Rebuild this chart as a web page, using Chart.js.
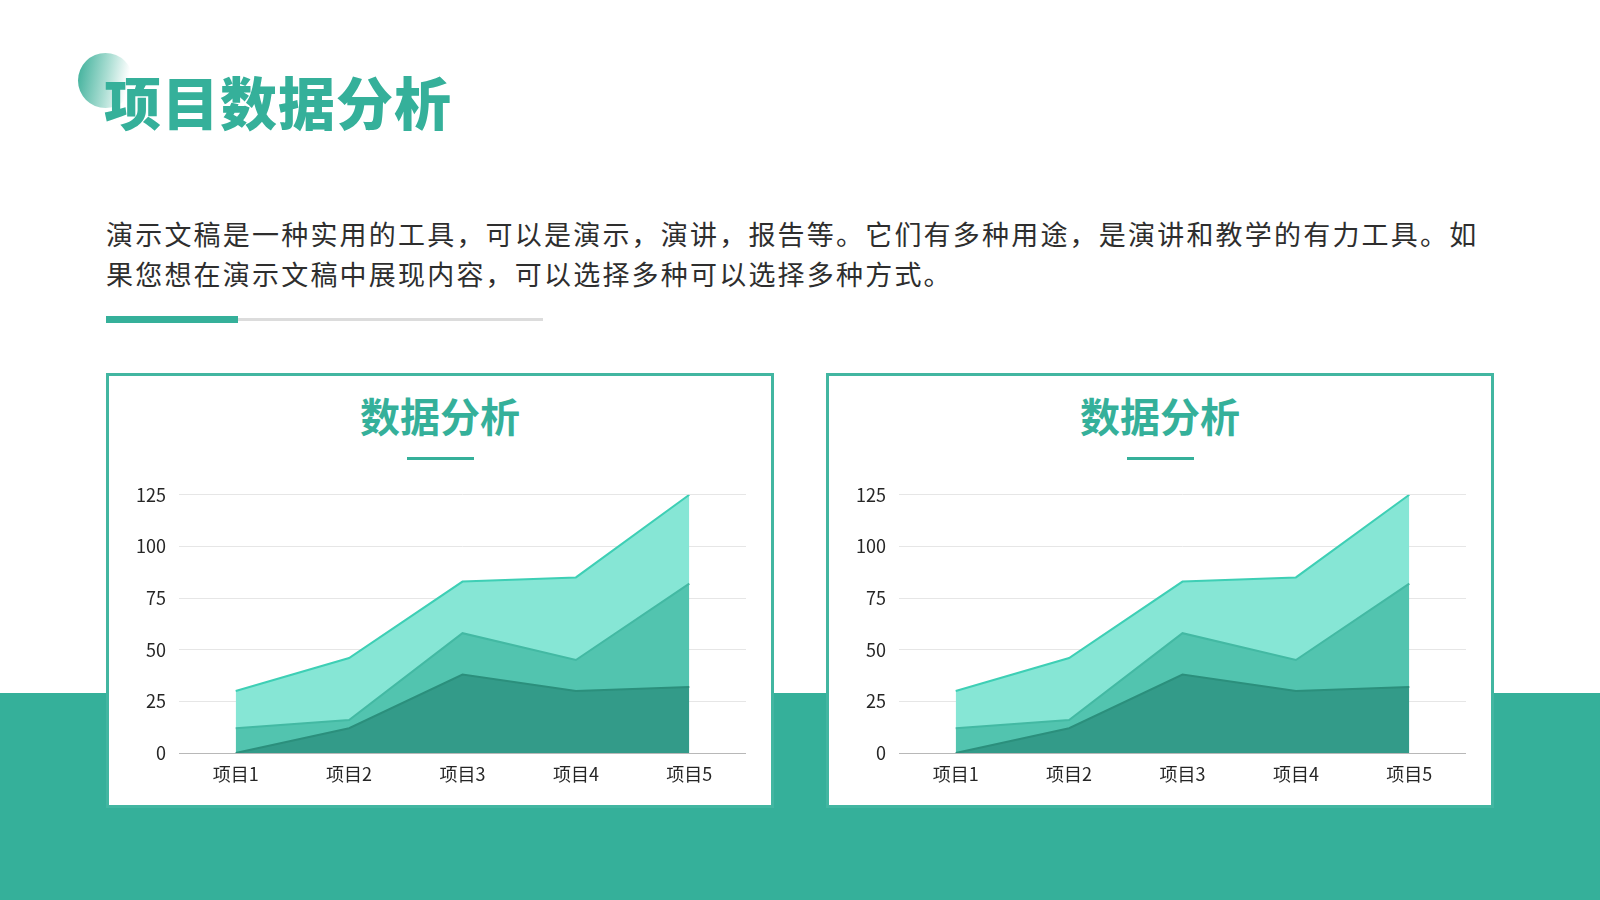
<!DOCTYPE html>
<html lang="zh">
<head>
<meta charset="utf-8">
<title>项目数据分析</title>
<script src="https://cdn.jsdelivr.net/npm/chart.js@4.4.1/dist/chart.umd.min.js"></script>
<style>
    * { margin: 0; padding: 0; box-sizing: border-box; }
    body {
        width: 1600px; height: 900px; overflow: hidden; position: relative;
        background: #fff; font-family: "Noto Sans CJK SC", "Noto Sans", sans-serif;
    }
    .band { position: absolute; left: 0; top: 693px; width: 1600px; height: 207px; background: #35b09a; }
    .dot {
        position: absolute; left: 78px; top: 53px; width: 55px; height: 55px; border-radius: 50%;
        background: linear-gradient(100deg, #3aae98 0%, #a9ddd2 50%, #ffffff 85%);
    }
    .title {
        position: absolute; left: 104px; top: 62px; font-size: 57px; font-weight: 900;
        color: #35b09a; letter-spacing: 1px; line-height: 76px;
    }
    .desc {
        position: absolute; left: 106px; top: 214px; width: 1376px; font-size: 27px;
        letter-spacing: 2.2px; line-height: 40px; color: #2e2e2e;
    }
    .rule-gray { position: absolute; left: 106px; top: 318px; width: 437px; height: 3px; background: #dcdcdc; }
    .rule-teal { position: absolute; left: 106px; top: 316px; width: 132px; height: 7px; background: #35b09a; }
    .panel {
        position: absolute; top: 373px; width: 668px; height: 435px;
        background: #fff; border: 3px solid #42b6a1;
    }
    .panel h2 {
        position: absolute; left: 0; right: 0; top: 11px; text-align: center;
        font-size: 40px; font-weight: 700; color: #35b09a; line-height: 56px;
    }
    .panel .underline { position: absolute; left: 298px; top: 81px; width: 67px; height: 3px; background: #35b09a; }
    .panel canvas { position: absolute; left: 11px; top: 95px; }
</style>
</head>
<body>
<div class="band"></div>
<div class="dot"></div>
<div class="title">项目数据分析</div>
<div class="desc">演示文稿是一种实用的工具，可以是演示，演讲，报告等。它们有多种用途，是演讲和教学的有力工具。如果您想在演示文稿中展现内容，可以选择多种可以选择多种方式。</div>
<div class="rule-gray"></div>
<div class="rule-teal"></div>

<div class="panel" style="left:106px;">
    <h2>数据分析</h2>
    <div class="underline"></div>
    <canvas id="chartLeft" width="626" height="329"></canvas>
</div>
<div class="panel" style="left:826px;">
    <h2>数据分析</h2>
    <div class="underline"></div>
    <canvas id="chartRight" width="626" height="329"></canvas>
</div>

<script>
// datos (áreas apiladas)
const categories = ['项目1', '项目2', '项目3', '项目4', '项目5'];
const seriesBottom = [0, 12, 38, 30, 32];
const seriesMiddle = [12, 4, 20, 15, 50];
const seriesTop = [18, 30, 25, 40, 43];
const yTicks = [0, 25, 50, 75, 100, 125];

const tickFont = { family: '"Noto Sans CJK SC", "Noto Sans", sans-serif', size: 18 };

function buildAreaChart(id) {
    const ctx = document.getElementById(id).getContext('2d');
    return new Chart(ctx, {
        type: 'line',
        data: {
            labels: categories,
            datasets: [
                { label: '系列1', data: seriesBottom, fill: 'origin', backgroundColor: '#339b89', borderColor: '#2b8f7c', borderWidth: 2 },
                { label: '系列2', data: seriesMiddle, fill: '-1', backgroundColor: '#52c4af', borderColor: '#43b9a3', borderWidth: 2 },
                { label: '系列3', data: seriesTop, fill: '-1', backgroundColor: '#86e6d5', borderColor: '#3ecfb5', borderWidth: 2 }
            ]
        },
        options: {
            responsive: false,
            animation: false,
            layout: { padding: { top: 14, right: 0, left: 0, bottom: 0 } },
            elements: { point: { radius: 0 }, line: { tension: 0 } },
            plugins: { legend: { display: false }, tooltip: { enabled: false } },
            scales: {
                x: {
                    offset: true,
                    grid: { display: false, drawTicks: false },
                    border: { display: true, color: '#b8b8b8', width: 1 },
                    ticks: { color: '#262626', font: tickFont, padding: 10 },
                    afterFit: scale => { scale.height = 47; }
                },
                y: {
                    stacked: true,
                    min: 0,
                    max: 125,
                    afterBuildTicks: scale => { scale.ticks = yTicks.map(v => ({ value: v })); },
                    grid: { color: '#e6e6e6', drawTicks: false },
                    border: { display: false },
                    ticks: { color: '#262626', font: tickFont, padding: 13 },
                    afterFit: scale => { scale.width = 59; }
                }
            }
        }
    });
}

buildAreaChart('chartLeft');
buildAreaChart('chartRight');
</script>
</body>
</html>
